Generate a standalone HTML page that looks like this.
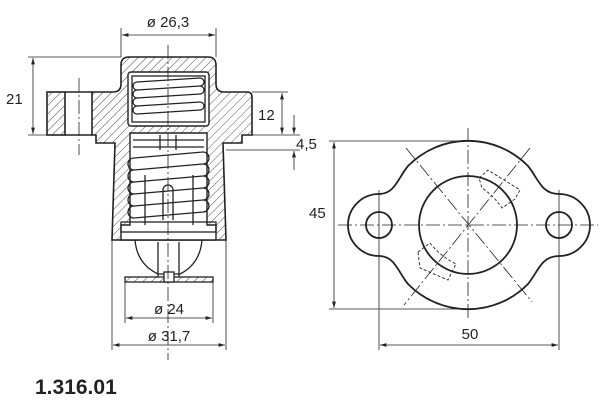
<!DOCTYPE html>
<html><head><style>html,body{margin:0;padding:0;background:#fff}svg{display:block}</style></head>
<body>
<svg width="600" height="400" viewBox="0 0 600 400" xmlns="http://www.w3.org/2000/svg" font-family="'Liberation Sans', sans-serif">
<defs>
<pattern id="h" width="6" height="6" patternUnits="userSpaceOnUse" patternTransform="rotate(45)">
<line x1="0" y1="0" x2="0" y2="6" stroke="#222" stroke-width="0.8"/>
</pattern>
<marker id="a" viewBox="0 0 10 10" refX="10" refY="5" markerWidth="8" markerHeight="8" orient="auto-start-reverse"><path d="M0,2 L10,5 L0,8 Z" fill="#222"/></marker>
</defs>
<g stroke="#222" fill="none">
<path d="M121,65 Q121,57 129,57 L208,57 Q216,57 216,65 L216,84 Q216,92 224,92 L247,92 Q252,92 252,97 L252,135 L242,135 L242,143 L223,143 L226,240 L112,240 L115,143 L96,143 L96,135 L92,135 L92,92 L113,92 Q121,92 121,84 Z" fill="url(#h)" stroke-width="1.6"/>
<rect x="47" y="92" width="18" height="43" fill="url(#h)" stroke-width="1.6"/>
<line x1="65" y1="92" x2="92" y2="92" stroke-width="1.6"/>
<line x1="65" y1="135" x2="92" y2="135" stroke-width="1.6"/>
<rect x="128" y="72" width="81" height="54" rx="3" fill="#fff" stroke-width="1.4"/>
<path d="M130,133 L207,133 L207,225 L216,225 L216,240 L121,240 L121,225 L130,225 Z" fill="#fff" stroke-width="1.4"/>
<g stroke-width="1.3">
<rect x="132" y="76" width="73" height="46" fill="none"/>
<path d="M137,82 L200,78 M137,90 L200,86 M137,98 L200,94 M137,106 L200,102 M137,114 L200,110"/>
<path d="M137,82 a4,4 0 0 0 0,8 M137,98 a4,4 0 0 0 0,8 M200,86 a4,4 0 0 1 0,8 M200,102 a4,4 0 0 1 0,8 M137,90 a4,4 0 0 0 0,8 M200,78 a4,4 0 0 1 0,8 M137,106 a4,4 0 0 0 0,8"/>
</g>
<g stroke-width="1.3">
<path d="M133,140 L204,140 M133,147 L204,147 M160,135 L160,150 M176,135 L176,150"/>
<path d="M134,158 L203,152 M134,170 L203,164 M134,182 L203,176 M134,194 L203,188 M134,206 L203,200 M134,218 L203,212"/>
<path d="M134,158 a6,6 0 0 0 0,12 M134,182 a6,6 0 0 0 0,12 M134,206 a6,6 0 0 0 0,12 M203,164 a6,6 0 0 1 0,12 M203,188 a6,6 0 0 1 0,12 M134,170 a6,6 0 0 0 0,12 M134,194 a6,6 0 0 0 0,12 M203,152 a6,6 0 0 1 0,12 M203,176 a6,6 0 0 1 0,12 M203,200 a6,6 0 0 1 0,12"/>
<path d="M145,175 L145,225 M193,175 L193,225 M163,190 a5,5 0 0 1 10,0 L173,220 M163,190 L163,220"/>
<rect x="121" y="222" width="95" height="10"/>
</g>
<g stroke-width="1.3">
<path d="M135,240 Q137,264 158,274 L180,274 Q200,264 202,240"/>
<path d="M158,242 L158,277 M179,242 L179,277"/>
<rect x="125" y="277" width="88" height="5" fill="url(#h)"/>
<rect x="164" y="272" width="10" height="10" fill="#fff"/>
</g>
<g stroke-width="0.8" stroke-dasharray="14,3,2,3">
<line x1="168" y1="45" x2="168" y2="360"/>
<line x1="79" y1="78" x2="79" y2="155"/>
</g>
<g stroke-width="0.8">
<line x1="121" y1="28" x2="121" y2="57"/><line x1="216" y1="28" x2="216" y2="57"/>
<line x1="122" y1="35" x2="215" y2="35" marker-start="url(#a)" marker-end="url(#a)"/>
<line x1="28" y1="57" x2="121" y2="57"/><line x1="28" y1="135" x2="47" y2="135"/>
<line x1="33" y1="58" x2="33" y2="134" marker-start="url(#a)" marker-end="url(#a)"/>
<line x1="252" y1="92" x2="288" y2="92"/><line x1="252" y1="135" x2="300" y2="135"/>
<line x1="282" y1="93" x2="282" y2="134" marker-start="url(#a)" marker-end="url(#a)"/>
<line x1="226" y1="150" x2="300" y2="150"/>
<line x1="294" y1="115" x2="294" y2="134" marker-end="url(#a)"/>
<line x1="294" y1="170" x2="294" y2="151" marker-end="url(#a)"/>
<line x1="125" y1="282" x2="125" y2="323"/><line x1="213" y1="282" x2="213" y2="323"/>
<line x1="126" y1="318" x2="212" y2="318" marker-start="url(#a)" marker-end="url(#a)"/>
<line x1="112" y1="240" x2="112" y2="350"/><line x1="226" y1="240" x2="226" y2="350"/>
<line x1="113" y1="345" x2="225" y2="345" marker-start="url(#a)" marker-end="url(#a)"/>
</g>
<path d="M379,194 C395,194 398,178 408,166 A84,84 0 0 1 528,166 C538,178 541,194 559,194 A31,31 0 0 1 559,256 C541,256 538,272 528,284 A84,84 0 0 1 408,284 C398,272 395,256 379,256 A31,31 0 0 1 379,194 Z" stroke-width="1.8"/>
<circle cx="468" cy="225" r="49" stroke-width="1.8"/>
<circle cx="379" cy="225" r="13" stroke-width="1.8"/>
<circle cx="559" cy="225" r="13" stroke-width="1.8"/>
<g stroke-width="0.9" stroke-dasharray="3,2">
<path d="M479,178 L488,170 L520,190 L515,199 L502,208 Q494,196 482,188 Z"/>
<path d="M418,252 L430,243 Q440,256 456,264 L448,280 L420,268 Z"/>
</g>
<g stroke-width="0.8" stroke-dasharray="14,3,2,3">
<line x1="338" y1="225" x2="598" y2="225"/>
<line x1="468" y1="128" x2="468" y2="320"/>
<line x1="406" y1="148" x2="532" y2="302"/>
<line x1="530" y1="148" x2="404" y2="305"/>
</g>
<g stroke-width="0.8">
<line x1="329" y1="141" x2="468" y2="141"/><line x1="329" y1="309" x2="468" y2="309"/>
<line x1="334" y1="142" x2="334" y2="308" marker-start="url(#a)" marker-end="url(#a)"/>
<line x1="379" y1="190" x2="379" y2="350"/><line x1="559" y1="190" x2="559" y2="350"/>
<line x1="380" y1="345" x2="558" y2="345" marker-start="url(#a)" marker-end="url(#a)"/>
</g>
</g>
<g fill="#222" font-size="15">
<text x="168" y="27" text-anchor="middle">ø 26,3</text>
<text x="6" y="104">21</text>
<text x="258" y="120">12</text>
<text x="296" y="149">4,5</text>
<text x="169" y="314" text-anchor="middle">ø 24</text>
<text x="169" y="341" text-anchor="middle">ø 31,7</text>
<text x="309" y="218">45</text>
<text x="470" y="339" text-anchor="middle">50</text>
<text x="35" y="394" font-size="21" font-weight="bold">1.316.01</text>
</g>
</svg>
</body></html>
